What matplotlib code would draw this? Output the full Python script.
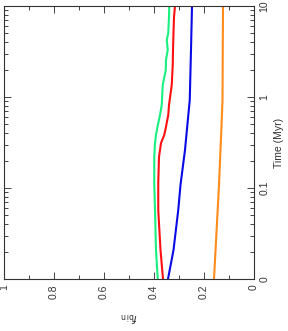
import matplotlib
matplotlib.use("Agg")
import matplotlib.pyplot as plt
from matplotlib.ticker import FixedLocator, LogLocator, NullFormatter

plt.rcParams['font.family'] = ['Liberation Sans', 'DejaVu Sans']

# Time (Myr) and binary fraction for each model
t_green = [10, 7.57, 5.05, 4.23, 3.29, 2.55, 1.98, 1.355, 0.817, 0.634, 0.456, 0.382, 0.312, 0.219, 0.1135, 0.0573, 0.0208, 0.01]
f_green = [0.339, 0.340, 0.343, 0.349, 0.345, 0.352, 0.353, 0.365, 0.369, 0.376, 0.387, 0.392, 0.396, 0.399, 0.399, 0.396, 0.392, 0.385]

t_red = [10, 7.57, 5.05, 3.29, 2.26, 1.355, 0.817, 0.634, 0.456, 0.382, 0.312, 0.219, 0.1135, 0.0573, 0.0208, 0.01]
f_red = [0.316, 0.320, 0.322, 0.324, 0.325, 0.329, 0.340, 0.343, 0.353, 0.359, 0.372, 0.380, 0.383, 0.383, 0.374, 0.364]

t_blue = [10, 3.29, 0.927, 0.262, 0.108, 0.0573, 0.0208, 0.01]
f_blue = [0.248, 0.252, 0.257, 0.276, 0.294, 0.303, 0.322, 0.344]

t_orange = [10, 0.927, 0.559, 0.108, 0.01]
f_orange = [0.124, 0.126, 0.129, 0.140, 0.160]

f_ticks = [0, 0.2, 0.4, 0.6, 0.8, 1]
f_ticklabels = ["0", "0.2", "0.4", "0.6", "0.8", "1"]
t_ticks = [0.01, 0.1, 1, 10]
t_ticklabels = ["0", "0.1", "1", "10"]

fig = plt.figure(figsize=(2.88, 3.31), dpi=100)
ax = fig.add_axes([4/288, 1-279/331, 250/288, 273/331])

ax.plot(f_green, t_green, color='#19f07f', lw=1.5)
ax.plot(f_red, t_red, color='#ff1010', lw=1.5)
ax.plot(f_blue, t_blue, color='#0a0ae6', lw=1.5)
ax.plot(f_orange, t_orange, color='#ff8c1a', lw=1.5)

ax.set_yscale('log')
ax.set_xlim(1, 0)
ax.set_ylim(0.01, 10)

tc = '#333333'
ax.xaxis.set_major_locator(FixedLocator(f_ticks))
ax.xaxis.set_minor_locator(FixedLocator([0.1, 0.3, 0.5, 0.7, 0.9]))
ax.set_xticklabels(f_ticklabels, rotation=90, color=tc, fontsize=7.5)
ax.yaxis.set_major_locator(FixedLocator(t_ticks))
ax.yaxis.set_minor_locator(LogLocator(base=10, subs=range(2, 10)))
ax.yaxis.set_minor_formatter(NullFormatter())
ax.set_yticklabels(t_ticklabels, rotation=90, color=tc, fontsize=7.5, va='center')

ax.tick_params(axis='both', which='both', direction='in', top=True, right=True,
               left=True, bottom=True, labelleft=False, labelright=True,
               color='#444444', width=0.7)
ax.tick_params(axis='both', which='major', length=5, pad=4)
ax.tick_params(axis='both', which='minor', length=3)

for s in ax.spines.values():
    s.set_color('#333333')
    s.set_linewidth(0.8)

ax.set_xlabel(r'$f_{\rm bin}$', rotation=180, color=tc, fontsize=8, labelpad=8)
ax.yaxis.set_label_position('right')
ax.set_ylabel('Time (Myr)', rotation=90, color=tc, fontsize=7.5, labelpad=3)

fig.savefig('out.png', dpi=100)
